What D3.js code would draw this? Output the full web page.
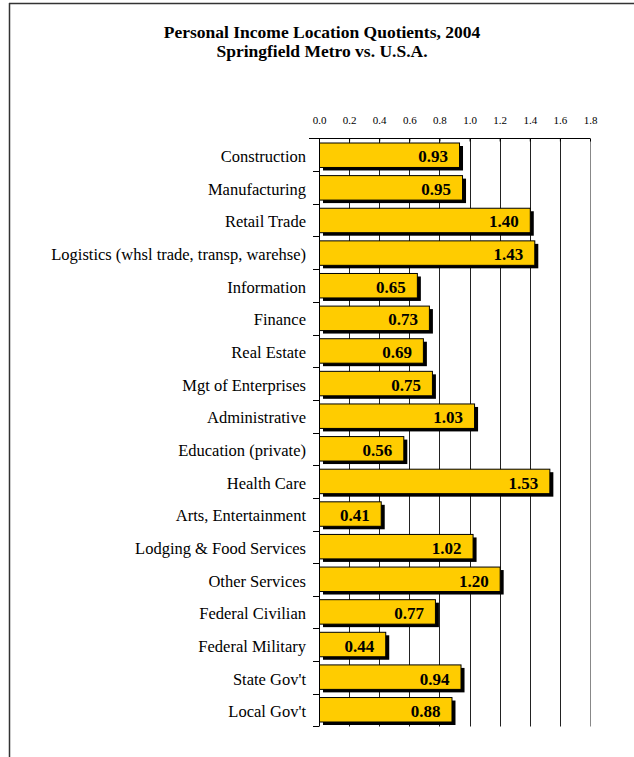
<!DOCTYPE html>
<html><head><meta charset="utf-8">
<script src="https://cdn.jsdelivr.net/npm/d3@7"></script>
<style>body{margin:0;background:#fff}svg{display:block}</style>
</head><body>
<script>
const categories = ["Construction","Manufacturing","Retail Trade","Logistics (whsl trade, transp, warehse)","Information","Finance","Real Estate","Mgt of Enterprises","Administrative","Education (private)","Health Care","Arts, Entertainment","Lodging & Food Services","Other Services","Federal Civilian","Federal Military","State Gov't","Local Gov't"];
const values = [0.93,0.95,1.40,1.43,0.65,0.73,0.69,0.75,1.03,0.56,1.53,0.41,1.02,1.20,0.77,0.44,0.94,0.88];
const xTicks = [0,0.2,0.4,0.6,0.8,1.0,1.2,1.4,1.6,1.8];
const titleLines = ["Personal Income Location Quotients, 2004","Springfield Metro vs. U.S.A."];

const W=634,H=757;
const svg=d3.select("body").append("svg").attr("width",W).attr("height",H);
const serif="'Liberation Serif','Times New Roman',serif";
// frame
svg.append("line").attr("x1",9).attr("x2",W).attr("y1",3.5).attr("y2",3.5).attr("stroke","#333").attr("stroke-width",1.5);
svg.append("line").attr("x1",9.5).attr("x2",9.5).attr("y1",3).attr("y2",H).attr("stroke","#333").attr("stroke-width",1.5);

svg.append("g").selectAll("text").data(titleLines).join("text")
 .attr("x",322).attr("y",(d,i)=>37.5+i*19.5).attr("text-anchor","middle")
 .attr("font-family",serif).attr("font-weight","bold").attr("font-size","17.5px").text(d=>d);

const L=319,R=590,T=138.5,B=726.5;
const x=d3.scaleLinear().domain([0,1.8]).range([L,R]);
const y=d3.scaleBand().domain(categories).range([T,B]).paddingInner(0.25).paddingOuter(0.138);
const yb=d3.scaleBand().domain(categories).range([T,B]);

// gridlines
svg.append("g").selectAll("line").data(xTicks.slice(1)).join("line")
 .attr("x1",d=>Math.round(x(d))+0.5).attr("x2",d=>Math.round(x(d))+0.5).attr("y1",T).attr("y2",B)
 .attr("stroke",d=>d===1.8?"#888":"#222").attr("stroke-width",1);

// top axis
const ax=svg.append("g").attr("transform",`translate(0,${T})`).call(d3.axisTop(x).tickValues(xTicks).tickFormat(d3.format(".1f")).tickSize(-3).tickPadding(10));
ax.select(".domain").attr("stroke","#000").attr("d",`M${L-10},0H${R}`);
ax.selectAll(".tick line").attr("stroke","#000");
ax.selectAll(".tick text").attr("font-family",serif).attr("font-size","11px").attr("fill","#000").attr("dy","0.35em").attr("y",-18);

// left axis
svg.append("line").attr("x1",L+0.5).attr("x2",L+0.5).attr("y1",T).attr("y2",B).attr("stroke","#000");
svg.append("g").selectAll("line").data(categories).join("line")
 .attr("x1",L-6).attr("x2",L).attr("y1",d=>Math.round(yb(d)+yb.bandwidth())+0.5).attr("y2",d=>Math.round(yb(d)+yb.bandwidth())+0.5).attr("stroke","#000");
svg.append("g").selectAll("text").data(categories).join("text")
 .attr("x",306).attr("y",d=>yb(d)+yb.bandwidth()/2).attr("dy","0.43em").attr("text-anchor","end")
 .attr("font-family",serif).attr("font-size","16.5px").attr("fill","#000").text(d=>d);

const bars=svg.append("g").selectAll("g").data(categories.map((c,i)=>({c,v:values[i]}))).join("g");
bars.append("rect").attr("x",x(0)+4).attr("y",d=>y(d.c)+3).attr("width",d=>x(d.v)-x(0)).attr("height",y.bandwidth()).attr("fill","#000");
bars.append("rect").attr("x",x(0)+0.5).attr("y",d=>y(d.c)).attr("width",d=>x(d.v)-x(0)).attr("height",y.bandwidth()).attr("fill","#FFCC00").attr("stroke","#000").attr("stroke-width",1);
bars.append("text").attr("x",d=>x(d.v)-11).attr("y",d=>yb(d.c)+yb.bandwidth()/2).attr("dy","0.42em").attr("text-anchor","end")
 .attr("font-family",serif).attr("font-weight","bold").attr("font-size","17px").attr("fill","#000").text(d=>d.v.toFixed(2));
</script>
</body></html>
